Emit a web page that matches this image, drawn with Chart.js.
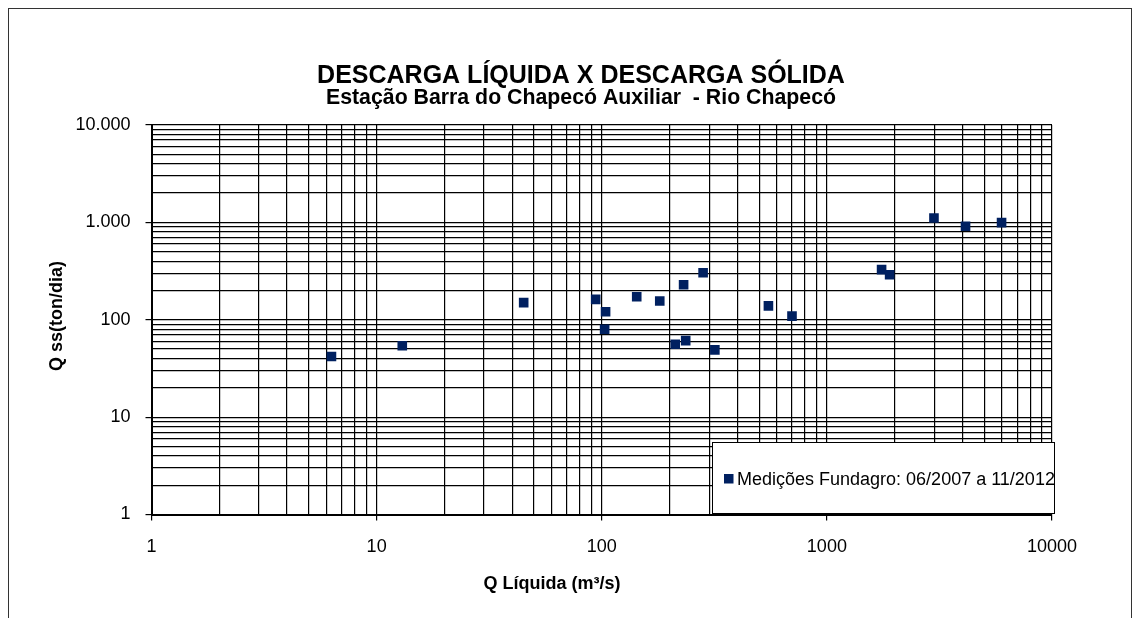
<!DOCTYPE html>
<html>
<head>
<meta charset="utf-8">
<script src="https://cdn.jsdelivr.net/npm/chart.js@4"></script>
<style>
  body { margin: 0; background: #fff; }
  #wrap { width: 1138px; height: 618px; position: relative; }
</style>
</head>
<body>
<div id="wrap"><canvas id="myChart"></canvas></div>
<script>
// Medições Fundagro - vazão líquida x descarga sólida
var qLiquida = [6.3, 13, 45, 94, 104, 103, 143, 181, 212, 236, 231, 282, 318, 550, 700, 1750, 1900, 2990, 4130, 5970];
var qSolida = [42, 54, 150, 162, 121, 80, 172, 156, 56, 61, 229, 304, 49, 139, 109, 327, 290, 1110, 912, 995];

var xDecades = [1, 10, 100, 1000, 10000];
var xTickLabels = ['1', '10', '100', '1000', '10000'];
var yDecades = [1, 10, 100, 1000, 10000];
var yTickLabels = ['1', '10', '100', '1.000', '10.000'];

var serieLabel = 'Medições Fundagro: 06/2007 a 11/2012';
var titulo = 'DESCARGA LÍQUIDA X DESCARGA SÓLIDA';
var subtitulo = 'Estação Barra do Chapecó Auxiliar  - Rio Chapecó';
var tituloX = 'Q Líquida (m³/s)';
var tituloY = 'Q ss(ton/dia)';

var FONT = "'Liberation Sans', Arial, sans-serif";
var NAVY = '#002060';

Chart.defaults.font.family = FONT;
Chart.defaults.color = '#000';

var points = qLiquida.map(function (q, i) { return { x: q, y: qSolida[i] }; });

// every 1..9 multiple of each decade gets a grid line, decades are major
function logTicks(scale) {
  var t = [];
  for (var p = scale.min; p < scale.max; p *= 10) {
    for (var m = 1; m < 10; m++) t.push({ value: m * p, major: m === 1 });
  }
  t.push({ value: scale.max, major: true });
  scale.ticks = t;
}

function labelFrom(decades, labels) {
  return function (value) {
    var i = decades.indexOf(value);
    return i >= 0 ? labels[i] : '';
  };
}

// frame, titles, axis titles and legend box
var extras = {
  id: 'extras',
  afterDraw: function (chart) {
    var c = chart.ctx;
    c.save();
    c.strokeStyle = '#333';
    c.lineWidth = 1;
    c.strokeRect(8.5, 8.5, 1123, 640);

    c.fillStyle = '#000';
    c.textAlign = 'center';
    c.textBaseline = 'middle';
    c.font = 'bold 25px ' + FONT;
    c.fillText(titulo, 581, 76);
    c.font = 'bold 21.3px ' + FONT;
    c.fillText(subtitulo, 581, 98);

    c.font = 'bold 18px ' + FONT;
    c.fillText(tituloX, 552, 584);
    c.save();
    c.translate(57, 316);
    c.rotate(-Math.PI / 2);
    c.fillText(tituloY, 0, 0);
    c.restore();

    // legend (text is cut at the box edge)
    c.fillStyle = '#fff';
    c.fillRect(712, 442, 342, 71);
    c.strokeStyle = '#000';
    c.strokeRect(712.5, 442.5, 342, 71);
    c.fillStyle = chart.data.datasets[0].backgroundColor;
    c.fillRect(724, 474, 9.5, 9.5);
    c.save();
    c.beginPath();
    c.rect(713, 443, 341, 70);
    c.clip();
    c.fillStyle = '#000';
    c.textAlign = 'left';
    c.font = '18px ' + FONT;
    c.fillText(chart.data.datasets[0].label, 737, 480);
    c.restore();
    c.restore();
  }
};

var ctx = document.getElementById('myChart').getContext('2d');
var chart = new Chart(ctx, {
  type: 'scatter',
  data: {
    datasets: [{
      label: serieLabel,
      data: points,
      backgroundColor: NAVY,
      borderColor: NAVY,
      borderWidth: 0,
      pointStyle: 'rect',
      pointRadius: 6.8,
      pointHoverRadius: 6.8
    }]
  },
  options: {
    responsive: true,
    maintainAspectRatio: false,
    animation: false,
    events: [],
    layout: { padding: { left: 0, top: 125, right: 86, bottom: 0 } },
    plugins: {
      legend: { display: false },
      tooltip: { enabled: false }
    },
    scales: {
      x: {
        type: 'logarithmic',
        min: 1,
        max: 10000,
        afterBuildTicks: logTicks,
        afterFit: function (s) { s.height = 103.5; },
        grid: {
          color: '#000',
          lineWidth: 1.2,
          tickLength: 6,
          tickColor: function (c) { return c.tick && c.tick.major ? '#000' : 'rgba(0,0,0,0)'; }
        },
        border: { display: true, color: '#000', width: 2 },
        ticks: {
          autoSkip: false,
          maxRotation: 0,
          padding: 16,
          font: { size: 18 },
          callback: labelFrom(xDecades, xTickLabels)
        }
      },
      y: {
        type: 'logarithmic',
        min: 1,
        max: 10000,
        afterBuildTicks: logTicks,
        afterFit: function (s) { s.width = 151.5; },
        grid: {
          color: '#000',
          lineWidth: 1.2,
          tickLength: 6,
          tickColor: function (c) { return c.tick && c.tick.major ? '#000' : 'rgba(0,0,0,0)'; }
        },
        border: { display: true, color: '#000', width: 2 },
        ticks: {
          autoSkip: false,
          padding: 15,
          font: { size: 18 },
          callback: labelFrom(yDecades, yTickLabels)
        }
      }
    }
  },
  plugins: [extras]
});
</script>
</body>
</html>
